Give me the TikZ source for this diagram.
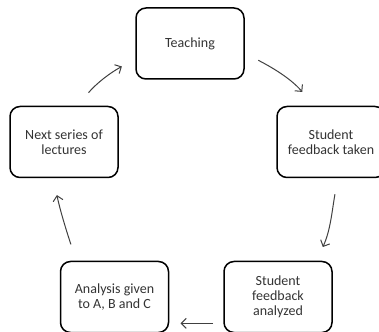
\documentclass[tikz,border=0pt]{standalone}
\usepackage{fontspec}
\setmainfont{Carlito}
\usetikzlibrary{arrows.meta}

\begin{document}
\begin{tikzpicture}[x=1pt, y=1pt, font=\fontsize{14}{15}\selectfont,
    box/.style={draw, line width=1.5pt, rounded corners=10pt, minimum width=108pt, minimum height=71pt, align=center, text=black!80, outer sep=0pt},
    cyc/.style={-{Straight Barb[length=5pt, width=10pt]}, line width=1pt, draw=black!75}]
    \useasboundingbox (0, 0) rectangle (379, 331);

    \node[box] (teach) at (190, 287.5) {Teaching};
    \node[box] (taken) at (331, 189) {Student\\feedback taken};
    \node[box] (analyzed) at (278, 34) {Student\\feedback\\analyzed};
    \node[box] (analysis) at (114.5, 34) {Analysis given\\to A, B and C};
    \node[box] (next) at (64, 189) {Next series of\\lectures};

    \draw[cyc, shorten <=16pt, shorten >=19pt] (teach.350) to[out=-27, in=130] (taken.115);
    \draw[cyc, shorten <=17pt, shorten >=16pt] (taken.281) to[out=-100, in=65] (analyzed.43);
    \draw[cyc, shorten <=11pt, shorten >=12pt] (analyzed.206) -- (analysis.334);
    \draw[cyc, shorten <=18pt, shorten >=18pt] (analysis.137) to[out=108, in=282] (next.253);
    \draw[cyc, shorten <=18pt, shorten >=16pt] (next.70) to[out=50, in=208] (teach.196);
\end{tikzpicture}
\end{document}
